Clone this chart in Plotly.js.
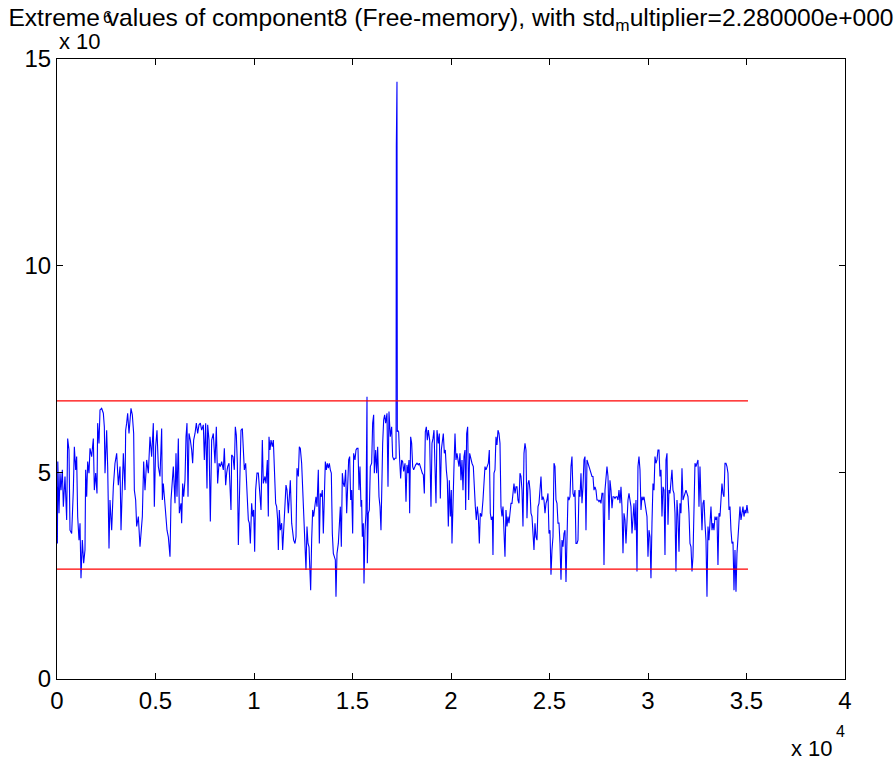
<!DOCTYPE html>
<html>
<head>
<meta charset="utf-8">
<script src="https://cdn.plot.ly/plotly-3.0.1.min.js"></script>
<style>html,body{margin:0;padding:0;background:#fff;}#chart{width:895px;height:762px;}</style>
</head>
<body>
<div id="chart"></div>
<script>
const sampleIndex = [
0,20,40,102,152,203,271,322,406,491,541,609,660,745,829,880,948,998,1049,1117,1168,1218,1286,1354,1421,1455,1506,1557,1624,1675,1760,1844,1895,1963,2030,2064,2132,2183,2267,2352,2403,2437,2521,2572,2640,2690,2775,2860,2944,3029,3113,3198,3249,3316,3367,3452,3486,3536,3587,3655,3706,3756,3824,3892,3926,3993,4044,4129,4213,4264,4332,4399,4467,4552,4636,4721,4805,4890,4941,5008,5076,5144,
5228,5313,5347,5397,5482,5533,5584,5651,5736,5787,5854,5905,5990,6040,6091,6159,6210,6294,6328,6379,6430,6497,6548,6599,6650,6700,6768,6836,6886,6937,7005,7073,7140,7208,7276,7343,7428,7479,7546,7614,7648,7716,7783,7851,7935,8020,8088,8155,8223,8291,8358,8443,8494,8562,8612,8663,8731,8782,8832,8866,8934,9001,9052,9103,9154,9205,9289,9340,9408,9458,9509,9577,9645,9712,9763,9814,9881,9932,9983,10034,10084,10152,
10220,10304,10355,10423,10473,10558,10609,10677,10727,10761,10812,10863,10930,10981,11032,11100,11150,11201,11235,11286,11336,11404,11455,11506,11573,11624,11675,11743,11793,11844,11912,11962,12013,12081,12132,12182,12250,12301,12352,12419,12470,12538,12589,12639,12690,12741,12792,12842,12876,12927,12978,13028,13096,13147,13198,13265,13316,13367,13418,13468,13519,13570,13621,13671,13722,13773,13824,13874,13925,13976,14027,14077,14128,14162,14213,14281,14331,14382,14433,14484,14534,14585,14653,14704,14754,14805,14856,14907,14957,15008,15059,15127,15177,15228,
15279,15330,15380,15431,15465,15499,15550,15583,15634,15685,15736,15753,15803,15854,15905,15973,16023,16074,16108,16176,16226,16277,16345,16396,16446,16480,16531,16582,16632,16683,16751,16802,16852,16920,16988,17038,17106,17157,17210,17225,17240,17258,17275,17292,17343,17394,17444,17495,17546,17597,17665,17715,17766,17817,17868,17901,17952,18003,18054,18104,18155,18206,18274,18341,18392,18443,18494,18544,18595,18646,18697,18747,18798,18849,18917,18984,19035,19086,19137,19187,19238,19289,19357,19407,19458,19509,19560,19610,19661,19712,19763,19813,19864,19915,19966,20016,20050,20101,20152,20203,20253,20304,
20355,20406,20456,20507,20558,20609,20659,20710,20744,20795,20845,20896,20947,21015,21065,21133,21184,21235,21285,21336,21387,21438,21488,21556,21624,21675,21725,21776,21827,21895,21945,21996,22047,22098,22131,22182,22233,22284,22334,22385,22436,22487,22537,22588,22639,22690,22740,22791,22842,22893,22943,22994,23045,23096,23147,23197,23248,23299,23350,23400,23451,23502,23553,23603,23654,23705,23756,23806,23857,23908,23959,24009,24060,24111,24162,24212,24263,24314,24365,24416,24466,24517,24568,24619,24669,24720,24771,24822,24872,24923,24974,25025,25075,25126,25177,25228,25279,25329,25380,25431,
25482,25532,25583,25634,25685,25735,25786,25837,25888,25938,25989,26040,26091,26141,26192,26243,26294,26344,26395,26446,26497,26547,26598,26649,26700,26751,26801,26852,26903,26954,27004,27055,27106,27157,27207,27258,27309,27360,27410,27461,27512,27563,27613,27664,27715,27766,27817,27867,27918,27969,28020,28070,28121,28172,28223,28273,28324,28375,28426,28476,28527,28578,28629,28679,28730,28781,28832,28882,28933,28984,29035,29085,29136,29187,29238,29288,29339,29390,29441,29491,29542,29593,29644,29694,29745,29796,29847,29898,29948,29999,30050,30101,30151,30202,30253,30304,30355,30405,30456,30507,
30558,30608,30659,30710,30761,30811,30862,30913,30964,31014,31065,31116,31167,31217,31268,31319,31370,31420,31471,31522,31573,31623,31674,31725,31776,31826,31877,31928,31979,32030,32080,32131,32182,32233,32283,32334,32385,32436,32486,32537,32588,32639,32689,32740,32791,32842,32892,32943,32994,33045,33095,33146,33197,33248,33298,33349,33400,33451,33502,33552,33603,33654,33705,33755,33806,33857,33908,33958,34009,34060,34111,34162,34212,34263,34314,34365,34415,34466,34517,34568,34618,34669,34720,34771,34821,34872,34923,34974,35024,35075
];
// Free memory, in units of 10^6
const freeMemory = [
4.65,3.28,5.26,4.01,4.98,4.57,5.06,4.17,4.90,3.85,5.82,5.54,3.60,3.52,4.57,5.62,5.06,5.38,3.93,3.36,3.77,2.44,3.36,2.80,3.12,5.06,4.41,5.26,4.98,5.58,5.38,5.82,4.57,4.98,4.49,6.19,5.70,6.51,6.55,6.43,6.10,4.98,6.02,5.14,3.16,4.33,3.60,4.65,5.22,5.46,4.69,5.14,3.60,4.73,5.46,4.57,6.02,6.19,6.43,5.94,6.27,6.55,6.39,5.94,4.57,4.33,3.69,3.93,3.20,3.52,3.93,5.26,4.57,5.30,4.98,5.86,5.38,6.19,4.17,5.62,6.02,5.14,
4.90,6.06,4.33,4.73,4.17,3.69,3.60,3.44,2.96,4.33,4.90,5.14,4.25,5.46,4.41,5.82,4.01,4.25,3.77,4.73,4.41,4.81,5.86,6.19,4.41,5.94,5.78,5.54,5.22,5.78,5.94,6.19,5.94,6.15,6.19,6.02,6.15,5.30,6.19,4.61,6.15,5.78,3.81,5.78,5.94,5.22,6.10,4.73,5.22,5.14,5.26,5.06,5.58,4.69,4.98,5.14,5.22,4.33,4.09,5.42,5.38,5.06,6.10,5.90,5.22,3.24,4.90,6.02,6.06,5.54,5.06,5.22,4.41,3.85,3.77,3.28,4.25,3.93,4.09,3.08,4.57,4.98,
4.98,4.25,4.09,5.78,4.73,4.90,4.73,5.30,3.93,5.86,5.54,5.78,5.62,5.78,5.14,4.25,4.17,3.85,3.12,4.09,3.60,3.77,3.12,3.60,4.33,4.69,4.57,4.01,4.41,4.81,3.77,3.52,3.36,3.28,3.44,5.10,4.90,5.62,5.58,5.22,4.65,4.09,3.44,2.64,3.69,3.28,3.20,2.72,2.15,3.36,4.09,3.93,4.17,4.41,4.17,5.06,3.28,4.49,4.41,4.57,3.52,4.41,5.26,5.06,5.22,5.10,5.22,5.06,4.98,3.52,3.04,2.96,2.88,1.99,3.04,3.28,3.93,4.17,3.20,4.98,4.73,4.65,5.06,4.01,4.65,5.30,5.38,4.33,4.57,3.52,5.46,5.30,5.54,5.58,
5.58,4.57,5.14,4.17,4.33,3.44,3.77,2.31,3.60,4.01,6.83,2.80,4.01,4.09,5.14,5.22,6.19,6.39,4.98,5.54,4.98,5.62,4.41,4.17,3.60,4.57,5.70,6.27,6.39,6.19,6.43,4.65,6.47,5.86,6.10,5.38,5.30,5.34,5.34,12.9,6.5,14.45,5.98,6.02,5.98,5.30,4.85,5.30,5.26,5.02,5.22,4.29,5.18,4.98,5.30,4.01,5.86,5.70,5.14,5.06,5.14,5.18,5.22,5.18,5.22,5.10,5.06,4.98,4.94,4.49,5.98,6.10,5.78,6.02,5.78,4.17,5.70,5.82,6.02,5.14,4.25,6.02,5.70,5.94,4.37,5.54,5.86,5.94,5.46,5.54,5.06,4.81,3.69,4.81,3.93,4.57,3.28,4.65,5.14,5.94,5.30,5.46,
5.30,5.14,5.46,4.81,5.30,4.57,5.38,5.54,4.09,5.94,6.10,4.33,5.46,5.30,5.22,5.14,4.41,4.17,3.85,4.17,3.93,3.28,4.01,3.93,4.33,4.90,5.14,5.06,5.14,5.22,5.54,4.01,3.85,3.93,3.00,4.98,5.06,5.86,5.66,6.02,5.94,5.70,4.17,3.93,4.17,3.52,2.96,4.09,3.69,3.93,3.77,4.01,4.25,4.25,4.57,4.73,4.49,4.65,4.65,4.33,4.25,4.98,4.90,4.57,3.69,5.46,5.70,5.54,3.89,4.73,4.81,4.57,4.01,3.93,3.52,3.12,3.77,3.44,3.36,4.17,4.25,4.57,4.90,4.33,4.41,4.33,4.01,4.25,4.33,4.49,3.52,3.60,2.52,3.12,3.44,5.22,5.14,4.33,4.25,3.77,
3.77,3.28,2.40,3.36,3.20,3.52,3.60,2.35,3.60,4.41,4.33,4.41,5.14,5.38,4.49,4.41,4.57,3.28,3.28,3.36,4.57,4.41,4.98,4.25,4.65,5.30,5.38,3.60,5.30,5.22,5.14,5.06,4.98,4.90,4.90,4.57,4.65,4.57,4.33,4.33,4.29,4.33,4.25,4.49,4.49,2.76,4.57,4.90,5.14,4.90,3.85,4.81,4.57,4.13,4.41,4.41,4.37,4.41,4.41,4.33,4.57,4.25,4.65,4.17,3.04,4.01,3.85,3.28,3.93,4.33,4.49,4.25,4.17,3.52,3.93,4.25,3.60,4.33,2.60,5.14,5.38,5.06,4.09,4.41,4.33,4.41,4.25,4.09,3.93,2.96,3.60,3.44,2.44,3.77,4.73,4.57,5.38,5.22,5.30,5.54,
5.54,4.90,5.06,3.93,4.65,4.57,3.00,5.30,5.46,3.73,4.57,4.49,4.73,5.06,4.57,4.49,4.01,2.60,4.33,3.93,3.08,4.25,4.01,5.10,4.33,4.41,4.49,4.57,4.49,4.41,4.01,3.28,3.20,2.60,2.96,4.33,5.22,5.14,5.26,5.30,4.17,5.14,4.33,3.60,4.25,4.33,3.77,3.36,1.99,3.69,3.36,3.85,4.17,3.60,3.77,3.60,3.93,3.85,3.93,2.76,4.01,3.93,4.49,4.73,4.49,4.41,5.22,5.22,5.14,4.98,4.09,4.17,3.60,3.28,3.32,2.15,3.12,2.11,3.04,3.52,3.77,4.17,3.85,4.09,4.17,3.93,4.09,4.01,4.21,4.01
];
const limitSpan = [0, 35075];
const upperLimit = 6.73;
const lowerLimit = 2.66;
const xTickVals = [0,5000,10000,15000,20000,25000,30000,35000,40000];
const xTickText = ['0','0.5','1','1.5','2','2.5','3','3.5','4'];
const yTickVals = [0,5,10,15];
const titleText = 'Extreme values of component8 (Free-memory), with std<sub>m</sub>ultiplier=2.280000e+000';

const FONT = 'Liberation Sans, Arial, Helvetica, sans-serif';

const traces = [
  {x: sampleIndex, y: freeMemory, type: 'scatter', mode: 'lines',
   line: {color: 'rgb(0,0,255)', width: 1.1}, hoverinfo: 'skip'},
  {x: [limitSpan[0], limitSpan[1], null, limitSpan[0], limitSpan[1]],
   y: [upperLimit, upperLimit, null, lowerLimit, lowerLimit],
   type: 'scatter', mode: 'lines', connectgaps: false,
   line: {color: '#ff0000', width: 1.2}, hoverinfo: 'skip'}
];

const axisCommon = {
  showgrid: false, zeroline: false, showline: true, linecolor: '#000', linewidth: 1,
  mirror: 'ticks', ticks: 'inside', ticklen: 6, tickcolor: '#000', tickwidth: 1,
  tickfont: {family: FONT, size: 24, color: '#000'}, fixedrange: true
};

const layout = {
  width: 895, height: 762,
  margin: {l: 57, r: 50, t: 59, b: 83, pad: 0},
  paper_bgcolor: '#fff', plot_bgcolor: '#fff',
  showlegend: false,
  font: {family: FONT, color: '#000'},
  title: {text: titleText, font: {family: FONT, size: 24.6, color: '#000'},
          x: 0.5, xref: 'paper', y: 1 - 17/762, yref: 'container', yanchor: 'middle'},
  xaxis: Object.assign({}, axisCommon, {range: [0, 40000], tickmode: 'array',
          tickvals: xTickVals, ticktext: xTickText}),
  yaxis: Object.assign({}, axisCommon, {range: [0, 15], tickmode: 'array',
          tickvals: yTickVals, ticktext: yTickVals.map(String)}),
  annotations: [
    {text: 'x 10', xref: 'paper', yref: 'paper', x: 0, y: 1, xanchor: 'left', yanchor: 'middle',
     yshift: 18, showarrow: false, font: {family: FONT, size: 22, color: '#000'}},
    {text: '6', xref: 'paper', yref: 'paper', x: 0.056, y: 1, xanchor: 'left', yanchor: 'middle',
     yshift: 42, showarrow: false, font: {family: FONT, size: 16, color: '#000'}},
    {text: 'x 10', xref: 'paper', yref: 'paper', x: 0.929, y: 0, xanchor: 'left', yanchor: 'middle',
     yshift: -69, showarrow: false, font: {family: FONT, size: 22, color: '#000'}},
    {text: '4', xref: 'paper', yref: 'paper', x: 0.986, y: 0, xanchor: 'left', yanchor: 'middle',
     yshift: -52, showarrow: false, font: {family: FONT, size: 16, color: '#000'}}
  ]
};

Plotly.newPlot('chart', traces, layout, {displayModeBar: false, staticPlot: true});
</script>
</body>
</html>
